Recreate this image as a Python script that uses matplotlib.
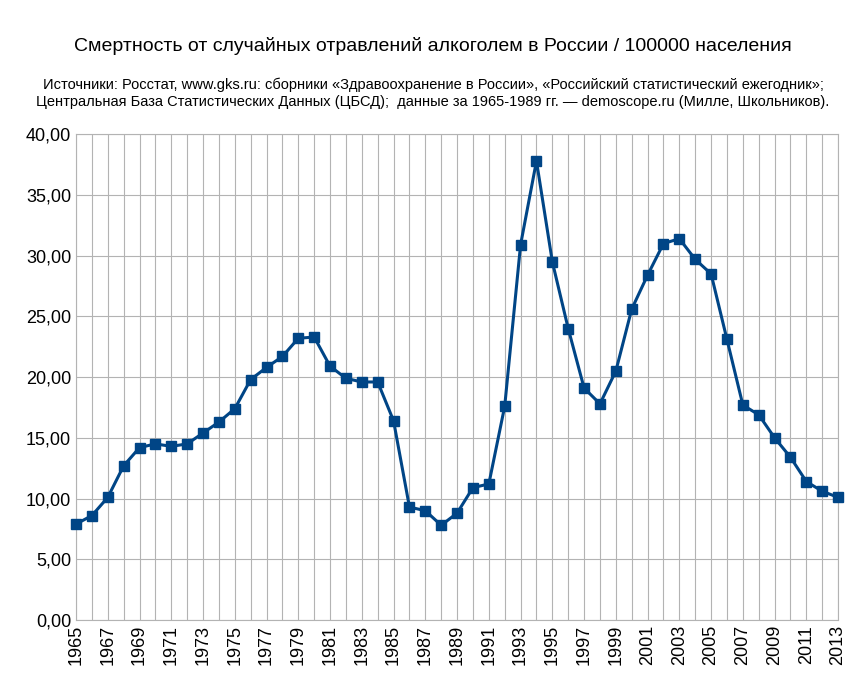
import matplotlib
matplotlib.use("Agg")
import matplotlib.pyplot as plt
from matplotlib.ticker import FuncFormatter, MultipleLocator

plt.rcParams['font.family'] = ['Liberation Sans', 'DejaVu Sans']

years = list(range(1965, 2014))
values = [7.9, 8.6, 10.1, 12.7, 14.2, 14.5, 14.3, 14.5, 15.4, 16.3,
          17.4, 19.8, 20.8, 21.7, 23.2, 23.3, 20.9, 19.9, 19.6, 19.6,
          16.4, 9.3, 9.0, 7.8, 8.8, 10.9, 11.2, 17.6, 30.9, 37.8,
          29.5, 24.0, 19.1, 17.8, 20.5, 25.6, 28.4, 31.0, 31.4, 29.7,
          28.5, 23.1, 17.7, 16.9, 15.0, 13.4, 11.4, 10.6, 10.1]
tick_years = years[::2]

fig = plt.figure(figsize=(8.66, 6.85), dpi=100)
ax = fig.add_axes([0.0878, 0.0949, 0.88, 0.7091])

ax.plot(years, values, color='#004586', linewidth=2.2, marker='s',
        markersize=7, zorder=3, clip_on=False)

ax.set_xlim(1965, 2013)
ax.set_ylim(0, 40)
ax.set_xticks(tick_years)
ax.xaxis.set_minor_locator(MultipleLocator(1))
ax.yaxis.set_major_locator(MultipleLocator(5))
ax.yaxis.set_major_formatter(FuncFormatter(lambda v, p: f'{v:.2f}'.replace('.', ',')))
ax.grid(True, which='both', axis='x', color='#b3b3b3', linewidth=0.8)
ax.grid(True, which='major', axis='y', color='#b3b3b3', linewidth=0.8)
ax.set_axisbelow(True)
for s in ax.spines.values():
    s.set_color('#b3b3b3')
ax.tick_params(axis='x', labelrotation=90, labelsize=13, length=0, which='both')
ax.tick_params(axis='y', labelsize=13, length=0)

fig.text(0.5, 0.925, 'Смертность от случайных отравлений алкоголем в России / 100000 населения',
         ha='center', fontsize=14)
fig.text(0.5, 0.845,
         'Источники: Росстат, www.gks.ru: сборники «Здравоохранение в России», «Российский статистический ежегодник»;\n'
         'Центральная База Статистических Данных (ЦБСД);  данные за 1965-1989 гг. — demoscope.ru (Милле, Школьников).',
         ha='center', fontsize=10.5, linespacing=1.3)

fig.savefig('out.png', dpi=100)
